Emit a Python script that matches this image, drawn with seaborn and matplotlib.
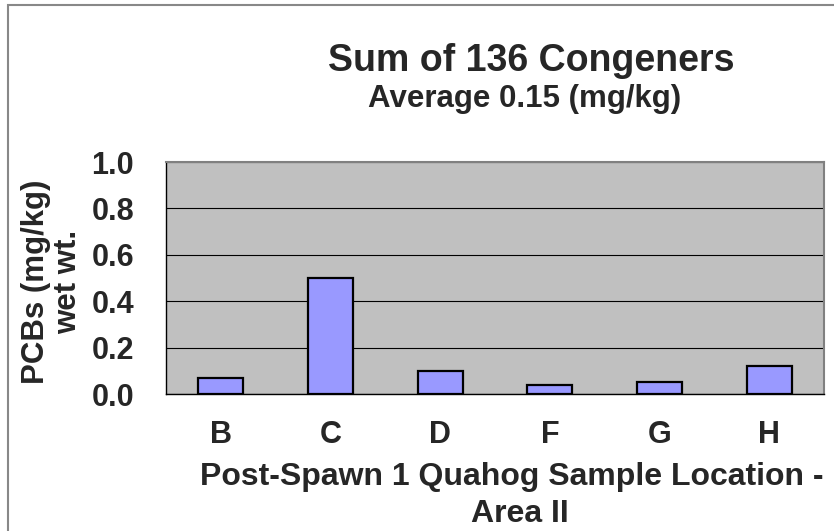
import matplotlib
matplotlib.use("Agg")
import matplotlib.pyplot as plt
import matplotlib.patches as patches
import seaborn as sns
import numpy as np

# datos
ubicaciones = ["B", "C", "D", "F", "G", "H"]
pcbs = [0.07, 0.50, 0.10, 0.04, 0.05, 0.12]
ticks_y = [0.0, 0.2, 0.4, 0.6, 0.8, 1.0]

titulo = "Sum of 136 Congeners"
subtitulo = "Average 0.15 (mg/kg)"
etiqueta_y = "PCBs (mg/kg)\nwet wt."
etiqueta_x1 = "Post-Spawn 1 Quahog Sample Location -"
etiqueta_x2 = "Area II"

sns.set_style("white")
plt.rcParams['font.family'] = ['Liberation Sans', 'DejaVu Sans']
plt.rcParams['font.weight'] = 'bold'

W, H = 834, 531
fig = plt.figure(figsize=(W / 100, H / 100), dpi=100)
ax = fig.add_axes([166 / W, 1 - 394 / H, (824 - 166) / W, (394 - 162) / H])
ax.set_facecolor("#C0C0C0")

sns.barplot(x=ubicaciones, y=pcbs, color="#9999FF", saturation=1,
            edgecolor="black", linewidth=1.6, width=0.41, ax=ax)

ax.set_xlim(-0.5, len(ubicaciones) - 0.5)
ax.set_ylim(0, 1.0)
ax.set_yticks(ticks_y)
ax.set_yticklabels([f"{t:.1f}" for t in ticks_y], fontsize=22, fontweight='bold')
ax.set_xticks(range(len(ubicaciones)))
ax.set_xticklabels(ubicaciones, fontsize=22, fontweight='bold')
ax.set_xticks(np.arange(-0.5, len(ubicaciones)), minor=True)
ax.tick_params(axis='x', which='major', length=0, pad=19)
ax.tick_params(axis='x', which='minor', length=7, width=0.8, color='black', direction='out')
ax.tick_params(axis='y', length=7, width=0.8, color='black', direction='out', pad=16)
ax.set_xlabel("")
ax.set_ylabel("")

ax.yaxis.grid(True, color="black", linewidth=0.8)
ax.set_axisbelow(True)
for lado in ["top", "right"]:
    ax.spines[lado].set_color("#808080")
    ax.spines[lado].set_linewidth(1.5)
for lado in ["left", "bottom"]:
    ax.spines[lado].set_color("black")
    ax.spines[lado].set_linewidth(1.0)

# titulos
fig.text(531 / W, 1 - 71 / H, titulo, ha='center', va='baseline',
         fontsize=27, fontweight='bold')
fig.text(525 / W, 1 - 107 / H, subtitulo, ha='center', va='baseline',
         fontsize=22.5, fontweight='bold')

# etiquetas de ejes
fig.text(52 / W, 1 - 282 / H, etiqueta_y, rotation=90, ha='center', va='center',
         multialignment='center', fontsize=22.5, fontweight='bold', linespacing=1.12)
fig.text(512 / W, 1 - 485 / H, etiqueta_x1, ha='center', va='baseline',
         fontsize=23, fontweight='bold')
fig.text(520 / W, 1 - 522 / H, etiqueta_x2, ha='center', va='baseline',
         fontsize=23, fontweight='bold')

# borde del grafico
borde = patches.Rectangle((8 / W, -0.1), 1.2, 1 - 5 / H + 0.1, transform=fig.transFigure,
                          fill=False, edgecolor="#888888", linewidth=1.5)
fig.patches.append(borde)

fig.savefig("out.png", dpi=100)
